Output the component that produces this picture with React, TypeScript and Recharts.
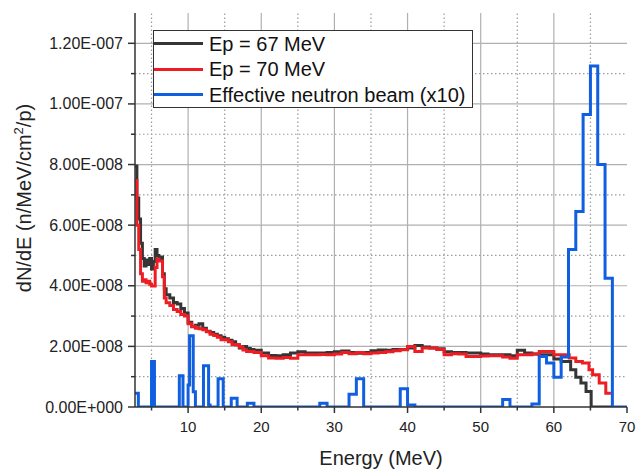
import { LineChart, Line, XAxis, YAxis, Legend, Label } from 'recharts';

const FONT = '"Liberation Sans", Arial, Helvetica, sans-serif';
const AXIS = '#333';
const X_DOMAIN: [number, number] = [2.74, 70];
const Y_DOMAIN: [number, number] = [0, 13];

// bin lower edges (MeV); values are dN/dE in units of 1E-8 n/MeV/cm2/p
const ep67Energy = [
  2.74, 3, 3.25, 3.5, 3.75, 4, 4.25, 4.5, 4.75, 5, 5.25, 5.5, 5.75, 6, 6.25, 6.5, 6.75, 7, 7.5, 8, 8.5, 9, 9.5,
  10, 10.5, 11, 11.5, 12, 12.5, 13, 13.5, 14, 14.5, 15, 15.5, 16, 16.5, 17, 17.5, 18, 18.5, 19,
  20, 21, 22, 23, 24, 25, 26, 27, 28, 29, 30, 31, 32, 33, 34, 35, 36, 37, 38, 39, 40,
  41, 42, 43, 44, 45, 46, 47, 48, 49, 50, 51, 52, 53, 54, 55, 56, 57, 58, 59, 60, 61,
  62.3, 63, 63.7, 64.4, 65.1, 68,
];
const ep67Value = [
  7.95, 6.9, 6.2, 5.4, 4.9, 4.65, 4.85, 4.7, 4.9, 4.55, 4.8, 5.2, 5.0, 4.9, 4.95, 4.4, 3.9, 3.7, 3.6, 3.45, 3.4, 3.25, 3.1,
  2.8, 2.65, 2.7, 2.75, 2.6, 2.5, 2.46, 2.4, 2.35, 2.3, 2.25, 2.2, 2.15, 2.05, 1.95, 2.0, 1.93, 1.9, 1.87,
  1.78, 1.7, 1.69, 1.72, 1.78, 1.82, 1.78, 1.78, 1.78, 1.8, 1.82, 1.85, 1.8, 1.77, 1.8, 1.86, 1.88, 1.87, 1.9, 1.9, 1.95,
  2.03, 1.98, 1.95, 1.92, 1.82, 1.8, 1.8, 1.78, 1.78, 1.75, 1.72, 1.72, 1.72, 1.69, 1.87, 1.78, 1.75, 1.72, 1.72, 1.58, 1.5,
  1.23, 0.98, 0.79, 0.51, 0, 0,
];

const ep70Energy = [
  2.74, 3, 3.25, 3.5, 3.75, 4, 4.25, 4.5, 4.75, 5, 5.5, 5.75, 6, 6.5, 6.75, 7, 7.5, 8, 8.5, 9, 9.5,
  10, 10.5, 11, 11.5, 12, 12.5, 13, 13.5, 14, 14.5, 15, 15.5, 16, 16.5, 17, 17.5, 18, 19,
  20, 21, 22, 23, 24, 25, 26, 27, 28, 29, 30, 31, 32, 33, 34, 35, 36, 37, 38, 39, 40,
  41, 42, 43, 44, 45, 46, 47, 48, 49, 50, 51, 52, 53, 54, 55, 56, 57, 58, 59, 60, 61,
  62.1, 63, 63.9, 64.8, 65.3, 66.2, 67.1, 67.8,
];
const ep70Value = [
  7.47, 6.0, 5.2, 4.4, 4.15, 4.2, 4.1, 4.15, 4.05, 3.99, 4.6, 4.88, 4.82, 4.3, 3.6, 3.44, 3.35, 3.22, 3.15, 3.05, 3.0,
  2.75, 2.66, 2.6, 2.58, 2.55, 2.48, 2.4, 2.36, 2.3, 2.22, 2.22, 2.15, 2.06, 2.05, 1.98, 1.88, 1.83, 1.8,
  1.69, 1.62, 1.61, 1.63, 1.61, 1.72, 1.72, 1.72, 1.73, 1.72, 1.75, 1.8, 1.76, 1.8, 1.76, 1.78, 1.8, 1.82, 1.86, 1.89, 2.0,
  1.83, 1.95, 1.95, 1.9, 1.72, 1.76, 1.75, 1.67, 1.67, 1.68, 1.69, 1.69, 1.65, 1.61, 1.72, 1.72, 1.75, 1.83, 1.83, 1.72, 1.72,
  1.62, 1.5, 1.45, 1.23, 1.06, 0.79, 0.45, 0.45,
];

const beamEnergy = [
  2.74, 3.2, 5.0, 5.4, 8.8, 9.3, 10.0, 10.2, 10.7, 11.0, 12.1, 12.8, 13.0, 14.1, 14.8, 15.9, 16.7, 18.1, 19.0,
  28, 29, 32, 33, 34, 39, 40, 41, 53, 54, 57, 58, 59, 60, 61, 62, 63, 64, 65, 66, 67, 68, 70,
];
const beamValue = [
  0.45, 0, 1.5, 0, 1.03, 0, 0.73, 2.35, 0.5, 0, 1.36, 0.07, 0, 0.93, 0, 0.29, 0, 0.12, 0,
  0.12, 0, 0.42, 0.93, 0, 0.6, 0.07, 0, 0.25, 0, 0.1, 1.67, 1.45, 0.98, 1.65, 5.2, 6.45, 9.65, 11.25, 8.0, 4.25, 0, 0,
];

const xTicks = [5, 10, 15, 20, 25, 30, 35, 40, 45, 50, 55, 60, 65, 70];
const xMajor = [10, 20, 30, 40, 50, 60];
const xMinor = [5, 15, 25, 35, 45, 55, 65];
const yTicks = [0, 1, 2, 3, 4, 5, 6, 7, 8, 9, 10, 11, 12];
const yMajor = [2, 4, 6, 8, 10, 12];
const yMinor = [1, 3, 5, 7, 9, 11];

const toRows = (es: number[], vs: number[]) => es.map((e, i) => ({ e, v: vs[i] }));

const SERIES = [
  { name: 'Ep = 67 MeV', color: '#353535', data: toRows(ep67Energy, ep67Value) },
  { name: 'Ep = 70 MeV', color: '#ee1d23', data: toRows(ep70Energy, ep70Value) },
  { name: 'Effective neutron beam (x10)', color: '#0f5fe0', data: toRows(beamEnergy, beamValue) },
];

// grid lines as two-point series so they go through the same scales
const GRID = [
  ...xMajor.map((v) => ({ id: `gx${v}`, dash: undefined, data: [{ e: v, v: Y_DOMAIN[0] }, { e: v, v: Y_DOMAIN[1] }] })),
  ...xMinor.map((v) => ({ id: `mx${v}`, dash: '1.5 2.5', data: [{ e: v, v: Y_DOMAIN[0] }, { e: v, v: Y_DOMAIN[1] }] })),
  ...yMajor.map((v) => ({ id: `gy${v}`, dash: undefined, data: [{ e: X_DOMAIN[0], v }, { e: X_DOMAIN[1], v }] })),
  ...yMinor.map((v) => ({ id: `my${v}`, dash: '1.5 2.5', data: [{ e: X_DOMAIN[0], v }, { e: X_DOMAIN[1], v }] })),
];

function sci(v: number) {
  const val = v * 1e-8;
  if (val === 0) return '0.00E+000';
  const e = Math.floor(Math.log10(val) + 1e-9);
  const m = val / Math.pow(10, e);
  return `${m.toFixed(2)}E${e < 0 ? '-' : '+'}${String(Math.abs(e)).padStart(3, '0')}`;
}

const BottomTick = ({ x, y, payload }: any) => {
  const major = payload.value % 10 === 0;
  return (
    <g>
      <line x1={x} y1={y} x2={x} y2={y + (major ? 6 : 3.5)} stroke={AXIS} strokeWidth={1.5} />
      {major && (
        <text x={x} y={y + 25} textAnchor="middle" fontSize={15} fontFamily={FONT} fill="#222">
          {payload.value}
        </text>
      )}
    </g>
  );
};

const LeftTick = ({ x, y, payload }: any) => {
  const major = payload.value % 2 === 0;
  return (
    <g>
      <line x1={x - (major ? 7 : 4)} y1={y} x2={x} y2={y} stroke={AXIS} strokeWidth={1.5} />
      {major && (
        <text x={x - 12} y={y + 5.5} textAnchor="end" fontSize={16} fontFamily={FONT} fill="#222">
          {sci(payload.value)}
        </text>
      )}
    </g>
  );
};

const TopTick = ({ x, y, payload }: any) => {
  const major = payload.value % 10 === 0;
  return <line x1={x} y1={y} x2={x} y2={y + (major ? 7 : 4)} stroke={AXIS} strokeWidth={1.5} />;
};

const RightTick = ({ x, y, payload }: any) => {
  const major = payload.value % 2 === 0;
  return <line x1={x - (major ? 7 : 4)} y1={y} x2={x} y2={y} stroke={AXIS} strokeWidth={1.5} />;
};

const LegendBox = () => (
  <div
    style={{
      width: 320,
      height: 78,
      boxSizing: 'border-box',
      border: '1.5px solid #333',
      background: '#fff',
      fontFamily: FONT,
      fontSize: 20,
      lineHeight: 1,
      color: '#111',
    }}
  >
    {SERIES.map((s) => (
      <div key={s.name} style={{ display: 'flex', alignItems: 'center', height: 25.5 }}>
        <span style={{ display: 'inline-block', width: 49, height: 3, background: s.color, marginRight: 6 }} />
        <span>{s.name}</span>
      </div>
    ))}
  </div>
);

const YTitle = ({ viewBox }: any) => {
  const cx = viewBox.x + 31;
  const cy = viewBox.y + viewBox.height / 2 - 12;
  return (
    <text
      x={cx}
      y={cy}
      transform={`rotate(-90 ${cx} ${cy})`}
      textAnchor="middle"
      fontSize={20}
      fontFamily={FONT}
      fill="#222"
    >
      dN/dE (n/MeV/cm
      <tspan fontSize={13} dy={-8}>2</tspan>
      <tspan dy={8}>/p)</tspan>
    </text>
  );
};

const XTitle = ({ viewBox }: any) => (
  <text
    x={viewBox.x + viewBox.width / 2}
    y={viewBox.y + 58}
    textAnchor="middle"
    fontSize={20}
    fontFamily={FONT}
    fill="#222"
  >
    Energy (MeV)
  </text>
);

export default function App() {
  return (
    <div style={{ position: 'absolute', left: 0, top: 0 }}>
      <LineChart width={636} height={469} margin={{ top: 13, right: 9, bottom: 0, left: 0 }}>
        <XAxis
          dataKey="e"
          type="number"
          domain={X_DOMAIN}
          allowDataOverflow
          ticks={xTicks}
          interval={0}
          height={62}
          tickSize={0}
          tickMargin={0}
          tickLine={false}
          tick={<BottomTick />}
          axisLine={{ stroke: AXIS, strokeWidth: 1.5 }}
        >
          <Label content={<XTitle />} />
        </XAxis>
        <XAxis
          xAxisId="top"
          orientation="top"
          dataKey="e"
          type="number"
          domain={X_DOMAIN}
          allowDataOverflow
          ticks={xTicks}
          interval={0}
          height={0}
          tickSize={0}
          tickMargin={0}
          tickLine={false}
          tick={<TopTick />}
          axisLine={{ stroke: AXIS, strokeWidth: 1.5 }}
        />
        <YAxis
          type="number"
          domain={Y_DOMAIN}
          allowDataOverflow
          ticks={yTicks}
          interval={0}
          width={135}
          tickSize={0}
          tickMargin={0}
          tickLine={false}
          tick={<LeftTick />}
          axisLine={{ stroke: AXIS, strokeWidth: 1.5 }}
        >
          <Label content={<YTitle />} />
        </YAxis>
        <YAxis
          yAxisId="right"
          orientation="right"
          type="number"
          domain={Y_DOMAIN}
          allowDataOverflow
          ticks={yTicks}
          interval={0}
          width={0}
          tickSize={0}
          tickMargin={0}
          tickLine={false}
          tick={<RightTick />}
          axisLine={{ stroke: AXIS, strokeWidth: 1.5 }}
        />
        {GRID.map((g) => (
          <Line
            key={g.id}
            data={g.data}
            dataKey="v"
            type="linear"
            stroke={g.dash ? '#9c9c9c' : '#b0b0b0'}
            strokeWidth={1.2}
            strokeDasharray={g.dash}
            dot={false}
            activeDot={false}
            legendType="none"
            isAnimationActive={false}
          />
        ))}
        {SERIES.map((s) => (
          <Line
            key={s.name}
            data={s.data}
            dataKey="v"
            name={s.name}
            type="stepAfter"
            stroke={s.color}
            strokeWidth={3}
            dot={false}
            activeDot={false}
            isAnimationActive={false}
          />
        ))}
        <Legend
          layout="vertical"
          align="center"
          verticalAlign="middle"
          wrapperStyle={{ left: 153, top: 30, width: 320 }}
          content={() => <LegendBox />}
        />
      </LineChart>
    </div>
  );
}
